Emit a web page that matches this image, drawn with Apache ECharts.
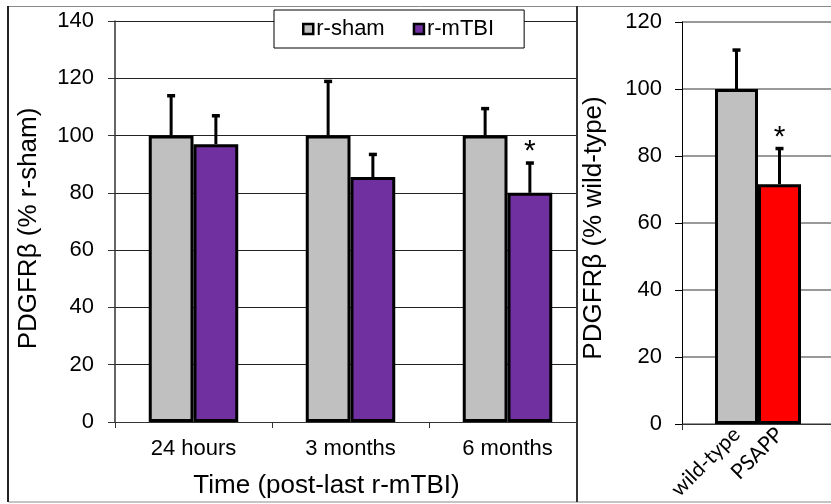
<!DOCTYPE html>
<html><head><meta charset="utf-8">
<script src="https://cdn.jsdelivr.net/npm/echarts@6/dist/echarts.min.js"></script>
<style>html,body{margin:0;padding:0;background:#fff}#c{width:831px;height:504px}</style>
</head><body><div id="c"></div>
<script>
// ---- data ----
const timeCategories = ['24 hours', '3 months', '6 months'];
const shamValues = [100, 100, 100];
const shamErr = [14, 19, 9.5];
const mtbiValues = [97, 85.5, 80];
const mtbiErr = [10, 8, 10.5];
const mtbiSig = [0, 0, 1];
const shamSig = [0, 0, 0];
const leftAxisMin = 0, leftAxisMax = 140, leftAxisStep = 20;

const genotypeCategories = ['wild-type', 'PSAPP'];
const genotypeValues = [100, 71.6];
const genotypeErr = [11.7, 10.7];
const genotypeSig = [0, 1];
const rightAxisMin = 0, rightAxisMax = 120, rightAxisStep = 20;

// ---- styles ----
const FONT = '"Liberation Sans", Arial, sans-serif';
const BAR_FRAC = 0.285;

function errorSeries(name, axisIdx, values, errs, sig, frac, z) {
  return {
    type: 'custom', name: name, xAxisIndex: axisIdx, yAxisIndex: axisIdx, z: z,
    silent: true,
    data: values.map((v, i) => [i, v, v + errs[i], sig[i]]),
    renderItem: function (params, api) {
      const i = api.value(0), v = api.value(1), t = api.value(2), s = api.value(3);
      const band = api.size([1, 0])[0];
      const b = api.coord([i, v]), tp = api.coord([i, t]);
      const x = b[0] + frac * band;
      const children = [
        {type: 'line', shape: {x1: x, y1: b[1], x2: x, y2: tp[1]}, style: {stroke: '#000', lineWidth: 3}},
        {type: 'rect', shape: {x: x - 4, y: tp[1] - 1.5, width: 8, height: 3.5}, style: {fill: '#000'}}
      ];
      if (s) {
        children.push({type: 'text', style: {text: '*', x: x, y: tp[1] - 11,
          align: 'center', verticalAlign: 'middle', textAlign: 'center', textVerticalAlign: 'middle',
          font: '30px ' + FONT, fill: '#000'}});
      }
      return {type: 'group', children: children};
    }
  };
}

const chart = echarts.init(document.getElementById('c'), null, {renderer: 'canvas'});
const option = {
  animation: false,
  backgroundColor: '#fff',
  textStyle: {fontFamily: FONT},
  legend: {
    data: ['r-sham', 'r-mTBI'],
    left: 274, top: 10,
    padding: [8, 30, 8, 28],
    itemGap: 28, itemWidth: 10, itemHeight: 10,
    icon: 'rect',
    itemStyle: {borderColor: '#000', borderWidth: 2.5},
    backgroundColor: '#fff', borderColor: '#000', borderWidth: 1,
    selectedMode: false,
    textStyle: {fontSize: 22, color: '#000', fontFamily: FONT, padding: [0, 0, 0, -2]},
    z: 10
  },
  grid: [
    {left: 115, right: 245, top: 21, bottom: 80},
    {left: 682, right: 0, top: 22, bottom: 80},
    {left: 715, right: 30, top: 22, bottom: 80}
  ],
  xAxis: [
    {type: 'category', gridIndex: 0, data: timeCategories,
     axisLine: {lineStyle: {color: '#333', width: 1}},
     axisTick: {show: true, length: 6, lineStyle: {color: '#333'}},
     axisLabel: {fontSize: 22, color: '#000', margin: 16, fontFamily: FONT},
     name: 'Time (post-last r-mTBI)', nameLocation: 'middle', nameGap: 51,
     nameTextStyle: {fontSize: 26, color: '#000', fontFamily: FONT, padding: [0, 48, 0, 0]}},
    {type: 'category', gridIndex: 1, data: [''], z: 3,
     axisLine: {lineStyle: {color: '#333', width: 1}},
     axisTick: {show: true, length: 6, lineStyle: {color: '#333'}},
     axisLabel: {show: false}},
    {type: 'category', gridIndex: 2, data: genotypeCategories, z: 3,
     axisLine: {show: false}, axisTick: {show: false},
     axisLabel: {rotate: 45, fontSize: 21, color: '#000', margin: 7, fontFamily: 'Lato, "Open Sans", sans-serif', interval: 0}}
  ],
  yAxis: [
    {type: 'value', gridIndex: 0, min: leftAxisMin, max: leftAxisMax, interval: leftAxisStep,
     axisLine: {show: true, lineStyle: {color: '#333', width: 1.5}},
     axisTick: {show: true, length: 7, lineStyle: {color: '#333'}},
     axisLabel: {fontSize: 22, color: '#000', margin: 21, fontFamily: FONT},
     splitLine: {show: true, lineStyle: {color: '#222', width: 1}},
     name: 'PDGFRβ (% r-sham)', nameLocation: 'middle', nameGap: 73, nameRotate: 90,
     nameTextStyle: {fontSize: 26, color: '#000', fontFamily: FONT, padding: [0, 14, 0, 0]}},
    {type: 'value', gridIndex: 1, min: rightAxisMin, max: rightAxisMax, interval: rightAxisStep, z: 3,
     axisLine: {show: true, lineStyle: {color: '#000', width: 1}},
     axisTick: {show: true, length: 7, lineStyle: {color: '#000'}},
     axisLabel: {fontSize: 22, color: '#000', margin: 20, fontFamily: FONT},
     splitLine: {show: true, lineStyle: {color: '#777', width: 1.5}},
     name: 'PDGFRβ (% wild-type)', nameLocation: 'middle', nameGap: 75, nameRotate: 90,
     nameTextStyle: {fontSize: 26, color: '#000', fontFamily: FONT, padding: [0, 10, 0, 0]}},
    {type: 'value', gridIndex: 2, min: rightAxisMin, max: rightAxisMax, show: false}
  ],
  series: [
    {type: 'bar', name: 'r-sham', xAxisIndex: 0, yAxisIndex: 0, data: shamValues,
     barWidth: (BAR_FRAC * 100) + '%', barGap: '0%', z: 2,
     itemStyle: {color: '#C0C0C0', borderColor: '#000', borderWidth: 3}},
    {type: 'bar', name: 'r-mTBI', xAxisIndex: 0, yAxisIndex: 0, data: mtbiValues,
     barWidth: (BAR_FRAC * 100) + '%', barGap: '0%', z: 2,
     itemStyle: {color: '#7030A0', borderColor: '#000', borderWidth: 3}},
    errorSeries('sham-err', 0, shamValues, shamErr, shamSig, -BAR_FRAC / 2, 3),
    errorSeries('mtbi-err', 0, mtbiValues, mtbiErr, mtbiSig, BAR_FRAC / 2, 3),
    {type: 'bar', name: 'genotype', xAxisIndex: 2, yAxisIndex: 2, barWidth: '100%', z: 6,
     data: genotypeValues.map((v, i) => ({value: v, itemStyle: {color: ['#C0C0C0', '#FF0000'][i]}})),
     itemStyle: {borderColor: '#000', borderWidth: 3}},
    errorSeries('genotype-err', 2, genotypeValues, genotypeErr, genotypeSig, 0, 7)
  ],
  graphic: [
    {type: 'rect', shape: {x: 577, y: 6, width: 260, height: 496}, style: {fill: '#fff'}, z: 1, silent: true},
    {type: 'rect', shape: {x: 8.5, y: 6.5, width: 830, height: 495.5}, style: {fill: 'transparent', stroke: '#8a8a8a', lineWidth: 1}, z: 20, silent: true},
    {type: 'line', shape: {x1: 8, y1: 6, x2: 8, y2: 502}, style: {stroke: '#222', lineWidth: 2}, z: 20, silent: true},
    {type: 'line', shape: {x1: 577, y1: 6, x2: 577, y2: 502}, style: {stroke: '#333', lineWidth: 2}, z: 20, silent: true}
  ]
};
chart.setOption(option);
</script>
</body></html>
